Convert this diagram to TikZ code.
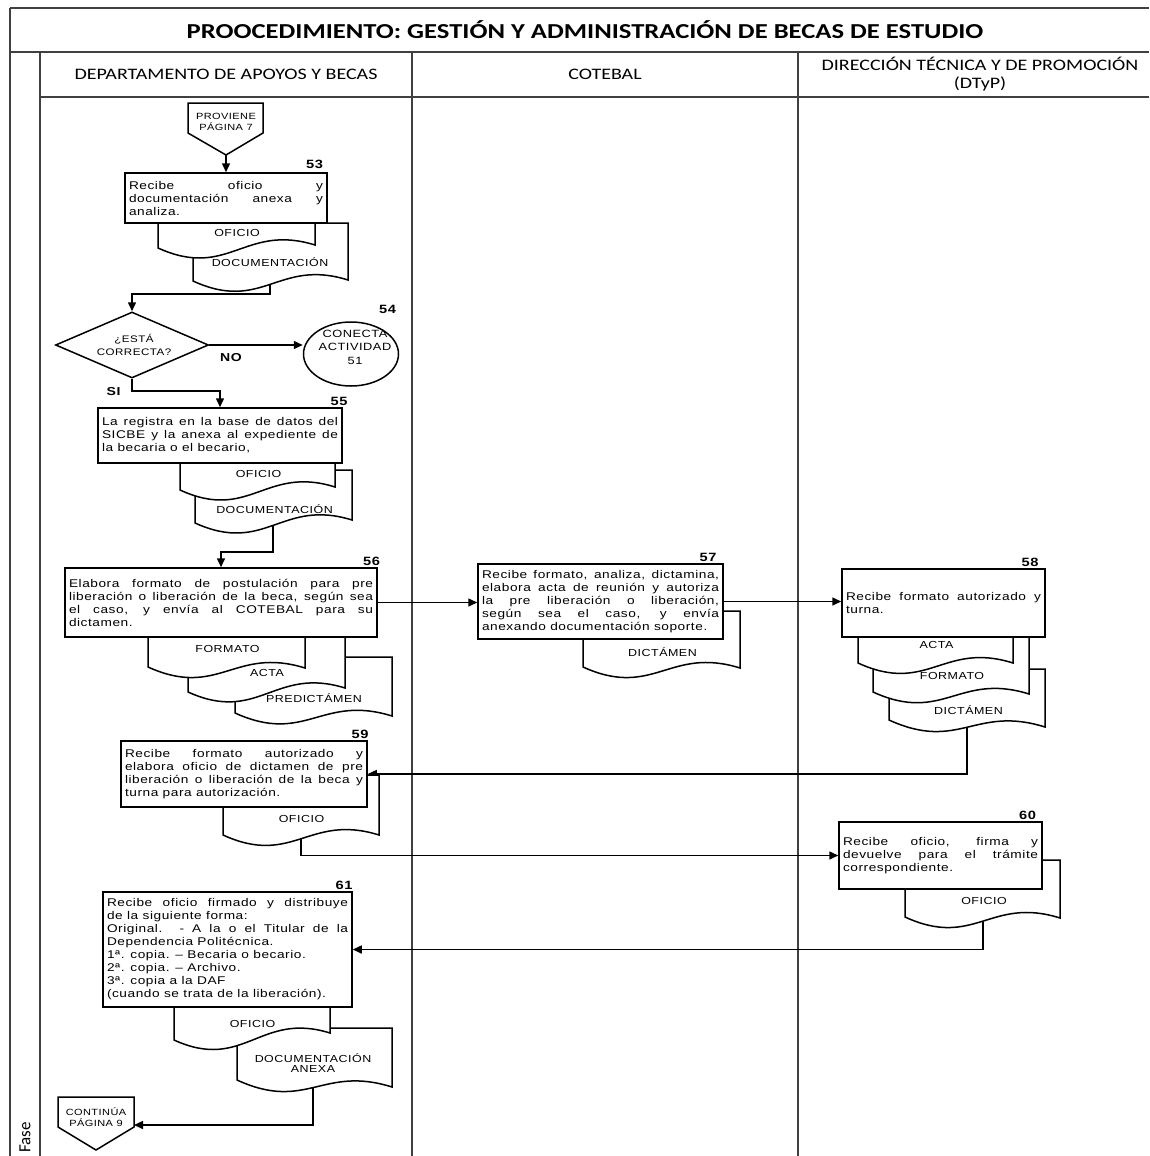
\documentclass[tikz,border=0pt]{standalone}
\usepackage{fontspec}
\usetikzlibrary{arrows.meta,shapes.geometric}
\setmainfont{Liberation Sans}
\newfontfamily\bodyf{Liberation Sans}[FakeStretch=1.22,LetterSpace=5]
\newfontfamily\headf{Carlito}[FakeStretch=1.25]
\newfontfamily\fasef{Carlito}
\pgfdeclarelayer{conn}\pgfdeclarelayer{docs}
\pgfsetlayers{conn,docs,main}
\hbadness=10000 \hfuzz=20pt
% x1, top, x2, left-bottom y, right-bottom y
\newcommand{\docsh}[5]{%
  \pgfmathsetmacro{\dxa}{#1+0.45*(#3-#1)}%
  \pgfmathsetmacro{\dxb}{#1+0.55*(#3-#1)}%
  \pgfmathsetmacro{\dyl}{#4+32}%
  \pgfmathsetmacro{\dyh}{#5-22}%
  \draw[docb] (#1,#2) -- (#1,#4) .. controls (\dxa,\dyl) and (\dxb,\dyh) .. (#3,#5) -- (#3,#2) -- cycle;}
\tikzset{
  frame/.style={draw=black!75, line width=1.8pt},
  proc/.style={draw, fill=white, line width=1.5pt, inner xsep=4pt, inner ysep=2pt, align=justify, font=\bodyf\fontsize{11.2}{13}\selectfont},
  docb/.style={draw, fill=white, line width=1.5pt},
  doclbl/.style={font=\bodyf\fontsize{10.2}{11}\selectfont, inner sep=0pt, align=center},
  offt/.style={font=\bodyf\fontsize{9}{10.5}\selectfont, inner sep=0pt, align=center},
  num/.style={font=\bodyf\bfseries\fontsize{12}{13}\selectfont, inner sep=0pt, anchor=south},
  lbl/.style={font=\bodyf\bfseries\fontsize{11.5}{12}\selectfont, inner sep=0pt},
  hdr/.style={font=\headf\fontsize{16}{18}\selectfont, inner sep=0pt, align=center},
  conn/.style={line width=1.5pt, -{Triangle[length=9pt,width=8pt]}},
  shp/.style={draw, fill=white, line width=1.5pt}
}
\begin{document}
\begin{tikzpicture}[x=1pt,y=-1pt]
\useasboundingbox (0,0) rectangle (1149,1156);

% ---- titles
\node[font=\headf\bfseries\fontsize{21.3}{24}\selectfont, inner sep=0pt] (title) at (585,30) {PROOCEDIMIENTO: GESTIÓN Y ADMINISTRACIÓN DE BECAS DE ESTUDIO};
\node[hdr] (h1) at (226,74) {DEPARTAMENTO DE APOYOS Y BECAS};
\node[hdr] (h2) at (605,74) {COTEBAL};
\node[hdr] (h3) at (980,74) {DIRECCIÓN TÉCNICA Y DE PROMOCIÓN\\(DTyP)};
\node[font=\fasef\fontsize{17}{20}\selectfont, rotate=90, anchor=east, inner sep=0pt] (fase) at (25,1122) {Fase};

% ---- off-page connector in
\draw[shp] (188,103) -- (263,103) -- (263,133) -- (226,155) -- (188,133) -- cycle;
\node[offt] (prov) at (226,122) {PROVIENE\\PÁGINA 7};
\coordinate (provtip) at (226,155);

% ---- process boxes
\node[proc, text width=194pt, minimum height=50pt] (b53) at (226,198) {Recibe oficio y\linebreak documentación anexa y\linebreak analiza.};
\node[diamond, shp, minimum width=153pt, minimum height=66pt, inner sep=0pt] (dia) at (132,345) {};
\node[offt, font=\bodyf\fontsize{9.5}{13}\selectfont] (diat) at (134,345) {¿ESTÁ\\CORRECTA?};
\node[ellipse, shp, minimum width=95pt, minimum height=64pt, inner sep=0pt] (circ) at (351,354) {};
\node[offt, font=\bodyf\fontsize{10.5}{13.5}\selectfont] (circt) at (355,347) {CONECTA\\ACTIVIDAD\\51};
\node[proc, text width=236pt, minimum height=55pt] (b55) at (220,435.5) {La registra en la base de datos del\linebreak SICBE y la anexa al expediente de\linebreak la becaria o el becario,};
\node[proc, text width=304pt, minimum height=69pt] (b56) at (221,602.5) {Elabora formato de postulación para pre\linebreak liberación o liberación de la beca, según sea\linebreak el caso, y envía al COTEBAL para su\linebreak dictamen.};
\node[proc, text width=237pt, minimum height=75pt] (b57) at (600.5,601.5) {Recibe formato, analiza, dictamina,\linebreak elabora acta de reunión y autoriza\linebreak la pre liberación o liberación,\linebreak según sea el caso, y envía\linebreak anexando documentación soporte.};
\node[proc, text width=195pt, minimum height=68pt] (b58) at (943.5,603) {Recibe formato autorizado y\linebreak turna.};
\node[proc, text width=238pt, minimum height=66pt] (b59) at (244,774) {Recibe formato autorizado y\linebreak elabora oficio de dictamen de pre\linebreak liberación o liberación de la beca y\linebreak turna para autorización.};
\node[proc, text width=195pt, minimum height=67pt] (b60) at (940.5,855.5) {Recibe oficio, firma y\linebreak devuelve para el trámite\linebreak correspondiente.};
\node[proc, text width=241pt, minimum height=115pt] (b61) at (227.5,949.5) {Recibe oficio firmado y distribuye\linebreak de la siguiente forma:\\Original. - A la o el Titular de la\linebreak Dependencia Politécnica.\\1ª. copia. – Becaria o becario.\\2ª. copia. – Archivo.\\3ª. copia a la DAF\\(cuando se trata de la liberación).};

% ---- off-page connector out
\draw[shp] (58,1097) -- (134,1097) -- (134,1127) -- (96,1150) -- (58,1127) -- cycle;
\node[offt] (cont) at (96,1117) {CONTINÚA\\PÁGINA 9};
\coordinate (conte) at (134,1125);

% ---- step numbers and labels
\node[num] (n53) at (314.5,169) {53};
\node[num] (n54) at (387.5,314) {54};
\node[num] (n55) at (339,406) {55};
\node[num] (n56) at (371.5,566) {56};
\node[num] (n57) at (708,562) {57};
\node[num] (n58) at (1030,567) {58};
\node[num] (n59) at (360,739) {59};
\node[num] (n60) at (1027.5,820) {60};
\node[num] (n61) at (344,890) {61};
\node[lbl] (no) at (231,357.5) {NO};
\node[lbl] (si) at (113.5,391.5) {SI};

% ---- document labels
\node[doclbl] (l53a) at (237,232.5) {OFICIO};
\node[doclbl] (l53b) at (270,262.5) {DOCUMENTACIÓN};
\node[doclbl] (l55a) at (258.5,474) {OFICIO};
\node[doclbl] (l55b) at (274.5,509) {DOCUMENTACIÓN};
\node[doclbl] (l56a) at (227.5,649) {FORMATO};
\node[doclbl] (l56b) at (267,672.5) {ACTA};
\node[doclbl] (l56c) at (314,698.5) {PREDICTÁMEN};
\node[doclbl] (l57a) at (662.5,652.5) {DICTÁMEN};
\node[doclbl] (l58a) at (936.5,645) {ACTA};
\node[doclbl] (l58b) at (952,675.5) {FORMATO};
\node[doclbl] (l58c) at (968.5,710) {DICTÁMEN};
\node[doclbl] (l59a) at (301.5,818.5) {OFICIO};
\node[doclbl] (l60a) at (984,900.5) {OFICIO};
\node[doclbl] (l61a) at (252.5,1024) {OFICIO};
\node[doclbl, font=\bodyf\fontsize{10.2}{10.5}\selectfont] (l61b) at (313,1063) {DOCUMENTACIÓN\\ANEXA};

% ---- connector anchor points
\coordinate (c53) at (270,270);
\coordinate (k1) at (132,294);
\coordinate (c55) at (273,512);
\coordinate (k3) at (221,552);
\coordinate (c58) at (967,712);
\coordinate (c59) at (301,825);
\coordinate (c60) at (983,905);
\coordinate (c61) at (313,1070);

\begin{pgfonlayer}{conn}
\draw[frame] (10,8) -- (1149,8);
\draw[frame] (10,52) -- (1149,52);
\draw[frame] (40,97) -- (1149,97);
\draw[frame] (10,8) -- (10,1156);
\draw[frame] (40,52) -- (40,1156);
\draw[frame] (412,52) -- (412,1156);
\draw[frame] (798,52) -- (798,1156);
\draw[conn] (provtip) -- (b53.north);
\draw[conn] (c53) |- (k1) -- (dia.north);
\draw[conn] (dia.east) -- (dia.east -| circ.west);
\draw[conn] (dia.south) -- ++(0,12) -| (b55.north);
\draw[conn] (c55) |- (k3) -- (b56.north);
\draw[conn] (b56.east) -- (b56.east -| b57.west);
\draw[conn] (b57.east) -- (b57.east -| b58.west);
\draw[conn] (c58) |- (b59.east);
\draw[conn] (c59) |- (b60.west);
\draw[conn] (c60) |- (b61.east);
\draw[conn] (c61) |- (conte);
\end{pgfonlayer}

\begin{pgfonlayer}{docs}
\docsh{193}{223}{348}{281}{280}
\docsh{158}{223}{315}{248}{245}
\docsh{195}{470}{352}{523}{520}
\docsh{180}{463}{335}{490}{487}
\docsh{235}{657}{392}{713}{716}
\docsh{188}{637}{345}{692}{688}
\docsh{148}{637}{305}{667}{668}
\docsh{583}{611}{740}{667}{668}
\docsh{889}{669}{1045}{720}{727}
\docsh{873}{637}{1029}{692}{694}
\docsh{858}{637}{1013}{663}{663}
\docsh{223}{775}{379}{835}{835}
\docsh{905}{860}{1060}{917}{918}
\docsh{237}{1028}{392}{1080}{1087}
\docsh{174}{1007}{330}{1040}{1033}
\end{pgfonlayer}
\end{tikzpicture}
\end{document}
